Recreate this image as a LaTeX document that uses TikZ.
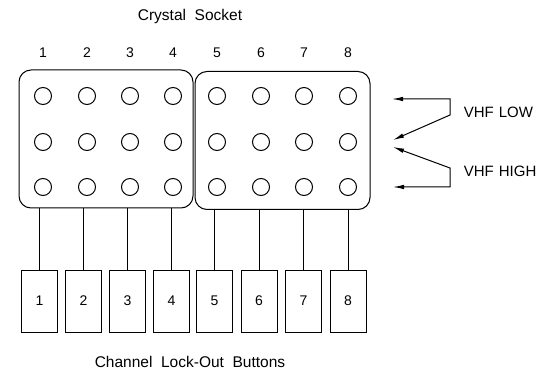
\documentclass[tikz,border=0pt]{standalone}
\usepackage{fontspec}
\setmainfont{Liberation Sans}
\usetikzlibrary{arrows.meta,positioning,calc}

\begin{document}
\begin{tikzpicture}[
        x=1pt, y=-1pt,
        line width=1pt,
        socket/.style={rectangle, rounded corners=12pt, draw, inner sep=0pt,
            minimum width=#1, minimum height=138pt},
        hole/.style={circle, draw, minimum size=17pt, inner sep=0pt},
        button/.style={rectangle, draw, minimum width=36pt, minimum height=62pt,
            font=\fontsize{14}{16}\selectfont},
        num/.style={font=\fontsize{14}{16}\selectfont},
        title/.style={font=\fontsize{15.5}{18}\selectfont},
        band/.style={anchor=west, font=\fontsize{15}{18}\selectfont},
        arr/.style={{Latex[length=11pt,width=4.5pt]}-{Latex[length=11pt,width=4.5pt]}}
    ]
        \useasboundingbox (0,0) rectangle (540,371);

        % Crystal sockets
        \node[title] (top) at (190,16) {Crystal \ Socket};
        \node[socket=174pt] (sockL) at (106,139) {};
        \node[socket=175pt] (sockR) at (282.5,140.5) {};
        \foreach \c/\x in {1/43,2/87,3/130,4/173,5/217,6/261,7/304,8/348} {
            \node[num] (n\c) at (\x,53) {\c};
            \foreach \r/\y in {1/96,2/142,3/187}
                \node[hole] (h\r\c) at (\x,\y) {};
        }

        % Lock-out buttons
        \foreach \i/\x in {1/39.5,2/83.5,3/127.5,4/171.5,5/214.5,6/259,7/303.5,8/348}
            \node[button] (b\i) at (\x,301) {\i};
        \node[title] (bottom) at (190,362) {Channel \ Lock-Out \ Buttons};

        % Connections
        \foreach \i/\s in {1/L,2/L,3/L,4/L,5/R,6/R,7/R,8/R}
            \draw (b\i.north) -- (b\i.north |- sock\s.south);

        % VHF bands
        \node[band] (low) at (460,112) {VHF\hspace{5pt}LOW};
        \node[band] (high) at (460,171) {VHF\hspace{5pt}HIGH};
        \coordinate (lowA) at (392,99);
        \coordinate (lowB) at (450,99);
        \coordinate (lowC) at (450,115);
        \coordinate (lowD) at (393,140);
        \coordinate (highA) at (393,147);
        \coordinate (highB) at (450,168);
        \coordinate (highC) at (450,187);
        \coordinate (highD) at (393,187);
        \draw[arr] (lowA) -- (lowB) -- (lowC) -- (lowD);
        \draw[arr] (highA) -- (highB) -- (highC) -- (highD);
    \end{tikzpicture}
\end{document}
